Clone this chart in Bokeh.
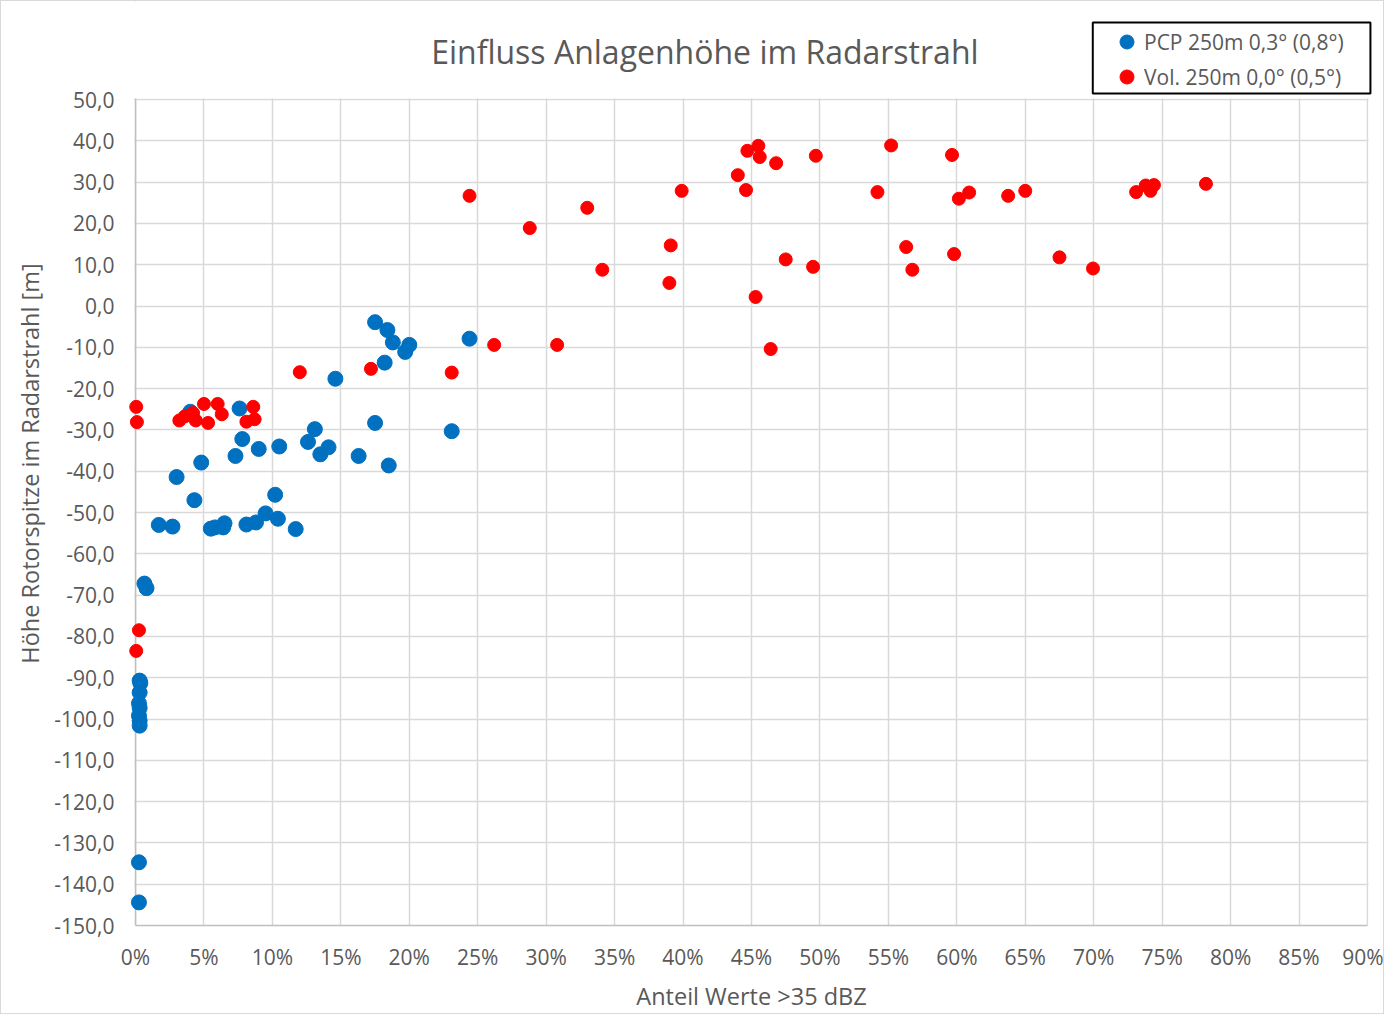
from bokeh.plotting import figure
from bokeh.models import FixedTicker, Legend, LegendItem, Label, Range1d, BoxAnnotation, Span
from bokeh.embed import file_html
from bokeh.resources import INLINE

# ---------------- data ----------------
title_text = "Einfluss Anlagenhöhe im Radarstrahl"
x_label = "Anteil Werte >35 dBZ"
y_label = "Höhe Rotorspitze im Radarstrahl [m]"
series_names = ["PCP 250m 0,3° (0,8°)", "Vol. 250m 0,0° (0,5°)"]

# PCP 250m series: x in percent, y in metres
pcp_x = [17.5, 18.4, 18.8, 19.7, 20.0, 18.2, 24.4, 14.6, 17.5, 23.1,
         13.1, 12.6, 14.1, 13.5, 16.3, 18.5, 10.5, 9.0, 7.8, 7.3,
         7.6, 4.0, 4.8, 3.0, 4.3, 1.7, 2.7, 5.5, 5.8, 6.4,
         6.5, 8.1, 8.8, 9.5, 10.2, 10.4, 11.7, 0.65, 0.8, 0.3,
         0.35, 0.3, 0.25, 0.3, 0.25, 0.3, 0.3, 0.25, 0.25]
pcp_y = [-3.9, -5.8, -8.8, -11.1, -9.4, -13.7, -7.9, -17.6, -28.3, -30.3,
         -29.8, -32.9, -34.2, -35.9, -36.3, -38.6, -34.0, -34.6, -32.2, -36.3,
         -24.8, -25.6, -37.9, -41.4, -47.0, -53.0, -53.4, -53.9, -53.6, -53.6,
         -52.6, -52.9, -52.4, -50.2, -45.7, -51.5, -54.0, -67.2, -68.3, -90.7,
         -91.3, -93.6, -96.2, -97.3, -99.2, -100.4, -101.6, -134.7, -144.4]

# Vol. 250m series
vol_x = [0.05, 0.1, 0.25, 0.05, 3.2, 3.6, 4.0, 4.2, 4.4, 5.0,
         5.3, 6.0, 6.3, 8.1, 8.6, 8.7, 12.0, 17.2, 23.1, 26.2,
         30.8, 24.4, 28.8, 33.0, 34.1, 39.9, 39.1, 39.0, 44.0, 44.7,
         45.5, 45.6, 44.6, 46.8, 49.7, 47.5, 49.5, 45.3, 46.4, 55.2,
         54.2, 56.3, 56.75, 59.65, 60.15, 60.9, 59.8, 63.75, 65.0, 67.5,
         69.95, 73.1, 73.8, 74.15, 74.4, 78.2]
vol_y = [-24.4, -28.1, -78.5, -83.5, -27.7, -26.7, -26.4, -25.9, -27.7, -23.7,
         -28.3, -23.7, -26.2, -28.0, -24.4, -27.4, -16.0, -15.2, -16.1, -9.4,
         -9.4, 26.7, 18.9, 23.8, 8.8, 27.9, 14.7, 5.6, 31.7, 37.6,
         38.8, 36.1, 28.1, 34.6, 36.4, 11.3, 9.5, 2.2, -10.4, 38.9,
         27.6, 14.3, 8.8, 36.6, 26.0, 27.5, 12.6, 26.7, 27.9, 11.8,
         9.1, 27.6, 29.2, 27.9, 29.3, 29.6]

x_ticks = list(range(0, 95, 5))
x_tick_labels = [f"{t}%" for t in x_ticks]
y_ticks = list(range(-150, 60, 10))
y_tick_labels = [f"{t},0" for t in y_ticks]

# ---------------- layout constants ----------------
X_MIN, X_MAX = 0, 90
Y_MIN, Y_MAX = -150, 50
PX_PER_X = 13.656                    # pixels per percent
PX_PER_Y = 4.125                     # pixels per metre
SIDE_PAD_PX = 16                     # unclipped room left of 0 % and right of 90 %
HEAD_PX = 98                         # header strip (title + legend) above the 50,0 line
X_LEFT = X_MIN - SIDE_PAD_PX / PX_PER_X
X_RIGHT = X_MAX + SIDE_PAD_PX / PX_PER_X
Y_TOP = Y_MAX + HEAD_PX / PX_PER_Y

FONT = "Open Sans"
TXT = "#595959"
GRID = "#D9D9D9"
AXIS = "#BFBFBF"

p = figure(width=1384, height=1014,
           x_range=Range1d(X_LEFT, X_RIGHT), y_range=Range1d(Y_MIN, Y_TOP),
           output_backend="svg", toolbar_location=None, title=None,
           min_border_left=134 - SIDE_PAD_PX, min_border_right=18 - SIDE_PAD_PX,
           min_border_top=0, min_border_bottom=90)
p.outline_line_color = None
p.styles = {"border": "1px solid #D9D9D9"}

p.xaxis.ticker = FixedTicker(ticks=x_ticks)
p.yaxis.ticker = FixedTicker(ticks=y_ticks)
p.xaxis.major_label_overrides = {t: l for t, l in zip(x_ticks, x_tick_labels)}
p.yaxis.major_label_overrides = {t: l for t, l in zip(y_ticks, y_tick_labels)}
p.xgrid.ticker = FixedTicker(ticks=x_ticks)
p.ygrid.ticker = FixedTicker(ticks=y_ticks)
p.yaxis.bounds = (Y_MIN, Y_MAX)
p.xaxis.bounds = (X_MIN, X_MAX)

for g in (p.xgrid, p.ygrid):
    g.grid_line_color = GRID
    g.grid_line_width = 1.5

for ax in (p.xaxis, p.yaxis):
    ax.axis_line_color = AXIS
    ax.axis_line_width = 1.5
    ax.major_tick_line_color = None
    ax.minor_tick_line_color = None
    ax.major_label_text_font = FONT
    ax.major_label_text_font_size = "21px"
    ax.major_label_text_color = TXT
    ax.axis_label_text_font = FONT
    ax.axis_label_text_font_size = "23.5px"
    ax.axis_label_text_font_style = "normal"
    ax.axis_label_text_color = TXT
p.yaxis.axis_line_color = None

p.xaxis.major_label_standoff = 11
p.yaxis.major_label_standoff = -1
p.xaxis.axis_label = x_label
p.yaxis.axis_label = y_label
p.xaxis.axis_label_standoff = 6
p.yaxis.axis_label_standoff = 5

# white strips left of 0 % and right of 90 % (hide grid there), below the markers
left_strip = BoxAnnotation(right=X_MIN - 1 / PX_PER_X, fill_color="white",
                           fill_alpha=1, line_alpha=0, level="underlay")
right_strip = BoxAnnotation(left=X_MAX + 1 / PX_PER_X, fill_color="white",
                            fill_alpha=1, line_alpha=0, level="underlay")
p.add_layout(left_strip)
p.add_layout(right_strip)
# value-axis line at 0 %
y_axis_line = Span(location=X_MIN, dimension="height", line_color=AXIS,
                   line_width=1.5, level="underlay")
p.add_layout(y_axis_line)

r1 = p.scatter(pcp_x, pcp_y, size=15, color="#0070C0")
r2 = p.scatter(vol_x, vol_y, size=13, color="#FF0000")

# white header strip hiding the grid above the 50,0 line
header = BoxAnnotation(bottom=Y_MAX + 1 / PX_PER_Y, fill_color="white",
                       fill_alpha=1, line_alpha=0)
p.add_layout(header)

# legend frame (pixel box converted to axis units)
legend_box = BoxAnnotation(left=(1093 - 138) / PX_PER_X, right=(1370 - 138) / PX_PER_X,
                           top=Y_MAX + (100 - 23) / PX_PER_Y,
                           bottom=Y_MAX + (100 - 94) / PX_PER_Y,
                           fill_color="white", fill_alpha=1,
                           line_color="black", line_alpha=1, line_width=2)
p.add_layout(legend_box)

legend = Legend(items=[LegendItem(label=series_names[0], renderers=[r1]),
                       LegendItem(label=series_names[1], renderers=[r2])],
                location=(990, 831),
                border_line_alpha=0, background_fill_alpha=0,
                padding=0, spacing=0, margin=0,
                glyph_width=35, glyph_height=35, label_height=35,
                label_standoff=0,
                label_text_font=FONT, label_text_font_size="21px",
                label_text_color=TXT)
p.add_layout(legend, "center")

title = Label(x=(706 - 138) / PX_PER_X, y=Y_MAX + 48 / PX_PER_Y,
              text=title_text, text_align="center", text_baseline="middle",
              text_font=FONT, text_font_size="32px", text_color=TXT)
p.add_layout(title)

open("out.html", "w").write(file_html(p, INLINE))
